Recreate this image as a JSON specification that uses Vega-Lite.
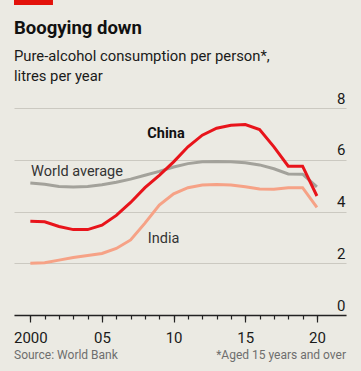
{
  "$schema": "https://vega.github.io/schema/vega-lite/v6.json",
  "autosize": {"type": "none"},
  "width": 332,
  "height": 207,
  "padding": {"left": 14, "top": 108, "right": 15, "bottom": 56},
  "background": "#ebeae3",
  "config": {
    "view": {"stroke": null},
    "font": "Roboto",
    "text": {"font": "Roboto"}
  },
  "title": {
    "text": "Boogying down",
    "subtitle": ["Pure-alcohol consumption per person*,", "litres per year"],
    "anchor": "start",
    "frame": "group",
    "font": "Roboto",
    "fontSize": 18.5,
    "fontWeight": "bold",
    "color": "#111111",
    "subtitleFont": "Roboto",
    "subtitleFontSize": 14.8,
    "subtitleColor": "#1a1a1a",
    "subtitleLineHeight": 20,
    "subtitlePadding": 12,
    "offset": -84
  },
  "resolve": {"axis": {"x": "independent"}},
  "data": {
    "values": [
      {"year": 2000, "series": "China", "value": 3.62},
      {"year": 2001, "series": "China", "value": 3.6},
      {"year": 2002, "series": "China", "value": 3.42},
      {"year": 2003, "series": "China", "value": 3.3},
      {"year": 2004, "series": "China", "value": 3.3},
      {"year": 2005, "series": "China", "value": 3.47},
      {"year": 2006, "series": "China", "value": 3.85},
      {"year": 2007, "series": "China", "value": 4.35},
      {"year": 2008, "series": "China", "value": 4.92},
      {"year": 2009, "series": "China", "value": 5.4},
      {"year": 2010, "series": "China", "value": 5.92},
      {"year": 2011, "series": "China", "value": 6.5},
      {"year": 2012, "series": "China", "value": 6.95},
      {"year": 2013, "series": "China", "value": 7.22},
      {"year": 2014, "series": "China", "value": 7.33},
      {"year": 2015, "series": "China", "value": 7.36},
      {"year": 2016, "series": "China", "value": 7.17},
      {"year": 2017, "series": "China", "value": 6.5},
      {"year": 2018, "series": "China", "value": 5.75},
      {"year": 2019, "series": "China", "value": 5.75},
      {"year": 2020, "series": "China", "value": 4.6},
      {"year": 2000, "series": "World average", "value": 5.1},
      {"year": 2001, "series": "World average", "value": 5.05},
      {"year": 2002, "series": "World average", "value": 4.97},
      {"year": 2003, "series": "World average", "value": 4.95},
      {"year": 2004, "series": "World average", "value": 4.97},
      {"year": 2005, "series": "World average", "value": 5.03},
      {"year": 2006, "series": "World average", "value": 5.13},
      {"year": 2007, "series": "World average", "value": 5.25},
      {"year": 2008, "series": "World average", "value": 5.4},
      {"year": 2009, "series": "World average", "value": 5.55},
      {"year": 2010, "series": "World average", "value": 5.72},
      {"year": 2011, "series": "World average", "value": 5.85},
      {"year": 2012, "series": "World average", "value": 5.92},
      {"year": 2013, "series": "World average", "value": 5.93},
      {"year": 2014, "series": "World average", "value": 5.92},
      {"year": 2015, "series": "World average", "value": 5.88},
      {"year": 2016, "series": "World average", "value": 5.8},
      {"year": 2017, "series": "World average", "value": 5.65},
      {"year": 2018, "series": "World average", "value": 5.45},
      {"year": 2019, "series": "World average", "value": 5.44},
      {"year": 2020, "series": "World average", "value": 4.95},
      {"year": 2000, "series": "India", "value": 2.0},
      {"year": 2001, "series": "India", "value": 2.02},
      {"year": 2002, "series": "India", "value": 2.12},
      {"year": 2003, "series": "India", "value": 2.22},
      {"year": 2004, "series": "India", "value": 2.3},
      {"year": 2005, "series": "India", "value": 2.38},
      {"year": 2006, "series": "India", "value": 2.57},
      {"year": 2007, "series": "India", "value": 2.9},
      {"year": 2008, "series": "India", "value": 3.55},
      {"year": 2009, "series": "India", "value": 4.25},
      {"year": 2010, "series": "India", "value": 4.68},
      {"year": 2011, "series": "India", "value": 4.92},
      {"year": 2012, "series": "India", "value": 5.02},
      {"year": 2013, "series": "India", "value": 5.04},
      {"year": 2014, "series": "India", "value": 5.02},
      {"year": 2015, "series": "India", "value": 4.96},
      {"year": 2016, "series": "India", "value": 4.87},
      {"year": 2017, "series": "India", "value": 4.86},
      {"year": 2018, "series": "India", "value": 4.92},
      {"year": 2019, "series": "India", "value": 4.92},
      {"year": 2020, "series": "India", "value": 4.16}
    ]
  },
  "encoding": {
    "x": {
      "field": "year",
      "type": "quantitative",
      "scale": {"domain": [1998.86, 2022.03], "nice": false, "zero": false},
      "axis": null
    },
    "y": {
      "field": "value",
      "type": "quantitative",
      "scale": {"domain": [0, 8], "nice": false},
      "axis": {
        "title": null,
        "orient": "right",
        "values": [0, 2, 4, 6, 8],
        "grid": true,
        "gridColor": "#cbc9c1",
        "gridWidth": 1,
        "domain": false,
        "ticks": false,
        "tickSize": 0,
        "labelAlign": "right",
        "labelBaseline": "alphabetic",
        "labelPadding": -1,
        "labelOffset": -5,
        "labelFont": "Roboto",
        "labelFontSize": 15,
        "labelColor": "#1a1a1a"
      }
    }
  },
  "layer": [
    {
      "mark": {"type": "tick", "orient": "vertical", "opacity": 0},
      "encoding": {
        "x": {
          "field": "year",
          "type": "quantitative",
          "scale": {"domain": [1998.86, 2022.03], "nice": false, "zero": false},
          "axis": {
            "title": null,
            "orient": "bottom",
            "values": [2000, 2001, 2002, 2003, 2004, 2005, 2006, 2007, 2008, 2009, 2010, 2011, 2012, 2013, 2014, 2015, 2016, 2017, 2018, 2019, 2020],
            "labels": false,
            "grid": false,
            "domain": false,
            "ticks": true,
            "tickSize": 4,
            "tickColor": "#222222",
            "tickWidth": 1.2
          }
        }
      }
    },
    {
      "mark": {"type": "tick", "orient": "vertical", "opacity": 0},
      "encoding": {
        "x": {
          "field": "year",
          "type": "quantitative",
          "scale": {"domain": [1998.86, 2022.03], "nice": false, "zero": false},
          "axis": {
            "title": null,
            "orient": "bottom",
            "values": [2000, 2005, 2010, 2015, 2020],
            "grid": false,
            "domain": true,
            "domainColor": "#222222",
            "domainWidth": 1.3,
            "ticks": true,
            "tickSize": 7,
            "tickColor": "#222222",
            "tickWidth": 1.2,
            "labelFont": "Roboto",
            "labelFontSize": 15,
            "labelColor": "#1a1a1a",
            "labelPadding": 8,
            "labelExpr": "datum.value == 2000 ? '2000' : slice(toString(datum.value), 2)"
          }
        }
      }
    },
    {
      "transform": [{"filter": "datum.series == 'India'"}],
      "mark": {"type": "line", "color": "#f6a286", "strokeWidth": 3}
    },
    {
      "transform": [{"filter": "datum.series == 'World average'"}],
      "mark": {"type": "line", "color": "#a3a29b", "strokeWidth": 3}
    },
    {
      "transform": [{"filter": "datum.series == 'China'"}],
      "mark": {"type": "line", "color": "#e8141b", "strokeWidth": 3}
    },
    {
      "transform": [{"filter": "datum.series == 'China' && datum.year == 2000"}],
      "mark": {"type": "text", "text": "China", "font": "Roboto", "fontSize": 14.5, "fontWeight": "bold", "color": "#111111", "align": "center", "baseline": "alphabetic"},
      "encoding": {"x": {"datum": 2009.47, "axis": null}, "y": {"datum": 6.83}}
    },
    {
      "transform": [{"filter": "datum.series == 'China' && datum.year == 2000"}],
      "mark": {"type": "text", "text": "World average", "font": "Roboto", "fontSize": 14.5, "color": "#333333", "align": "left", "baseline": "alphabetic"},
      "encoding": {"x": {"datum": 2000.05, "axis": null}, "y": {"datum": 5.37}}
    },
    {
      "transform": [{"filter": "datum.series == 'China' && datum.year == 2000"}],
      "mark": {"type": "text", "text": "India", "font": "Roboto", "fontSize": 14.5, "color": "#333333", "align": "left", "baseline": "alphabetic"},
      "encoding": {"x": {"datum": 2008.2, "axis": null}, "y": {"datum": 2.77}}
    },
    {
      "transform": [{"filter": "datum.series == 'China' && datum.year == 2000"}],
      "mark": {"type": "text", "text": "Source: World Bank", "font": "Roboto", "fontSize": 12, "color": "#6e6e6e", "align": "left", "baseline": "alphabetic"},
      "encoding": {"x": {"datum": 1998.86, "axis": null}, "y": {"datum": -1.7}}
    },
    {
      "transform": [{"filter": "datum.series == 'China' && datum.year == 2000"}],
      "mark": {"type": "text", "text": "*Aged 15 years and over", "font": "Roboto", "fontSize": 12, "color": "#6e6e6e", "align": "right", "baseline": "alphabetic"},
      "encoding": {"x": {"datum": 2022.03, "axis": null}, "y": {"datum": -1.7}}
    },
    {
      "transform": [{"filter": "datum.series == 'China' && datum.year == 2000"}],
      "mark": {"type": "rect", "color": "#e3120b"},
      "encoding": {"x": {"datum": 1998.86, "axis": null}, "x2": {"datum": 2001.58}, "y": {"datum": 12.17}, "y2": {"datum": 11.98}}
    }
  ]
}
